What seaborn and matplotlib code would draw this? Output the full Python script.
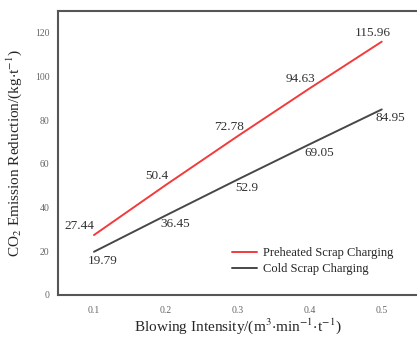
import pandas as pd
import matplotlib.pyplot as plt
import seaborn as sns

# 数据
intensity = [0.1, 0.2, 0.3, 0.4, 0.5]
preheated = [27.44, 50.4, 72.78, 94.63, 115.96]
cold = [19.79, 36.45, 52.9, 69.05, 84.95]
series_names = ['Preheated Scrap Charging', 'Cold Scrap Charging']
x_ticks = [0.1, 0.2, 0.3, 0.4, 0.5]
y_ticks = [0, 20, 40, 60, 80, 100, 120]

df = pd.DataFrame({
    'x': intensity * 2,
    'y': preheated + cold,
    'series': [series_names[0]] * 5 + [series_names[1]] * 5,
})

sns.set_style('white')
plt.rcParams['font.family'] = ['Liberation Serif', 'DejaVu Serif']
plt.rcParams['mathtext.fontset'] = 'stix'

fig = plt.figure(figsize=(4.17, 3.40), dpi=100)
ax = fig.add_axes([58/417, 45/340, 359/417, 284/340])

palette = {series_names[0]: '#f23b3b', series_names[1]: '#474747'}
sns.lineplot(data=df, x='x', y='y', hue='series', palette=palette, lw=1.4, ax=ax)

# 数据标签
for xv, yv in zip(intensity, preheated):
    dx = -15 if xv < 0.15 else -9
    ax.annotate(f'{yv:g}', (xv, yv), xytext=(dx, 9), textcoords='offset pixels',
                ha='center', va='center', fontsize=9.5, color='#333333')
for xv, yv in zip(intensity, cold):
    ax.annotate(f'{yv:g}', (xv, yv), xytext=(9, -9), textcoords='offset pixels',
                ha='center', va='center', fontsize=9.5, color='#333333')

ax.set_xlim(0.05, 0.549)
ax.set_ylim(0, 130)
ax.set_xticks(x_ticks)
ax.set_yticks(y_ticks)
ax.set_xticklabels([f'{t:.1f}' for t in x_ticks])
ax.tick_params(labelsize=7, colors='#666666', length=0)
ax.tick_params(axis='x', pad=8)
ax.tick_params(axis='y', pad=6)
for s in ['left', 'bottom', 'top']:
    ax.spines[s].set_color('#555555')
    ax.spines[s].set_linewidth(1.5)
ax.spines['right'].set_visible(False)

ax.set_xlabel(r'Blowing Intensity/(m$^{3}$$\cdot$min$^{-1}$$\cdot$t$^{-1}$)', fontsize=11, labelpad=1)
ax.set_ylabel(r'CO$_{2}$ Emission Reduction/(kg$\cdot$t$^{-1}$)', fontsize=11, labelpad=8)

leg = ax.legend(loc='lower right', bbox_to_anchor=(0.965, 0.03), frameon=False, fontsize=9,
                handlelength=2.0, handletextpad=0.5, labelspacing=0.3, title=None)

fig.savefig('out.png', dpi=100)
